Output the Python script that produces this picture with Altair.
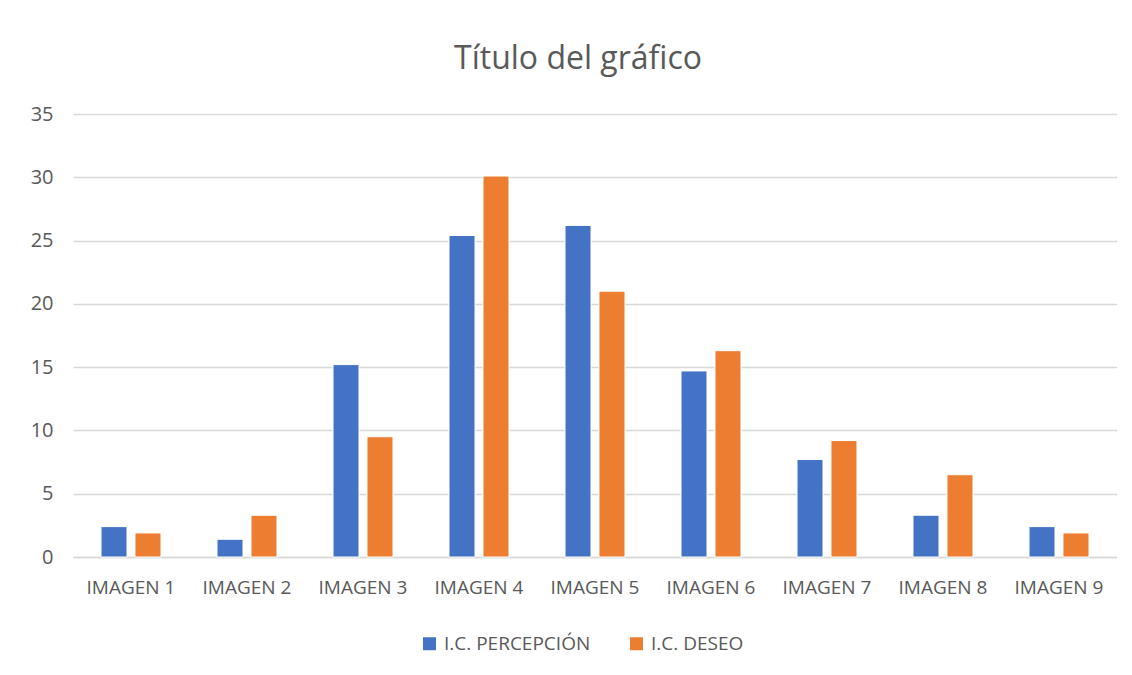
import altair as alt
import pandas as pd

categories = ["IMAGEN 1", "IMAGEN 2", "IMAGEN 3", "IMAGEN 4", "IMAGEN 5",
              "IMAGEN 6", "IMAGEN 7", "IMAGEN 8", "IMAGEN 9"]
series_names = ["I.C. PERCEPCIÓN", "I.C. DESEO"]
percepcion = [2.4, 1.4, 15.2, 25.4, 26.2, 14.7, 7.7, 3.3, 2.4]
deseo = [1.9, 3.3, 9.5, 30.1, 21.0, 16.3, 9.2, 6.5, 1.9]

rows = []
for c, p, d in zip(categories, percepcion, deseo):
    rows.append({"cat": c, "serie": series_names[0], "valor": p})
    rows.append({"cat": c, "serie": series_names[1], "valor": d})
df = pd.DataFrame(rows)

FONT = "Open Sans"
GRAY = "#595959"

chart = alt.Chart(df).mark_bar(stroke="white", strokeWidth=1).encode(
    x=alt.X("cat:N", sort=categories, title=None,
            scale=alt.Scale(paddingInner=0.483, paddingOuter=0.2415),
            axis=alt.Axis(labelAngle=0, labelFontSize=19, labelColor=GRAY, labelFont=FONT,
                          ticks=False, domainColor="#D9D9D9", domainWidth=1.5,
                          labelPadding=21)),
    xOffset=alt.XOffset("serie:N", sort=series_names,
                        scale=alt.Scale(paddingInner=0.235, paddingOuter=0)),
    y=alt.Y("valor:Q", title=None,
            scale=alt.Scale(domain=[0, 35]),
            axis=alt.Axis(values=[0, 5, 10, 15, 20, 25, 30, 35], labelFontSize=20,
                          labelColor=GRAY, labelFont=FONT, ticks=False, domain=False,
                          gridColor="#D9D9D9", gridWidth=1.5, labelPadding=20)),
    color=alt.Color("serie:N", sort=series_names,
                    scale=alt.Scale(domain=series_names, range=["#4472C4", "#ED7D31"]),
                    legend=alt.Legend(title=None, orient="none", direction="horizontal",
                                      legendX=347, legendY=520, symbolType="square",
                                      symbolSize=169, symbolStrokeWidth=0,
                                      labelFontSize=19, labelColor=GRAY, labelFont=FONT,
                                      columnPadding=36, labelOffset=5)),
).properties(
    width=1044,
    height=443,
    title=alt.TitleParams("Título del gráfico", fontSize=32, font=FONT, color=GRAY,
                          fontWeight="normal", anchor="middle", offset=28, dx=-17),
    autosize=alt.AutoSizeParams(type="none"),
    padding={"left": 65, "top": 106, "right": 0, "bottom": 110},
).configure_view(stroke=None)

chart.save("out.html", embed_options={"renderer": "svg", "actions": False})
